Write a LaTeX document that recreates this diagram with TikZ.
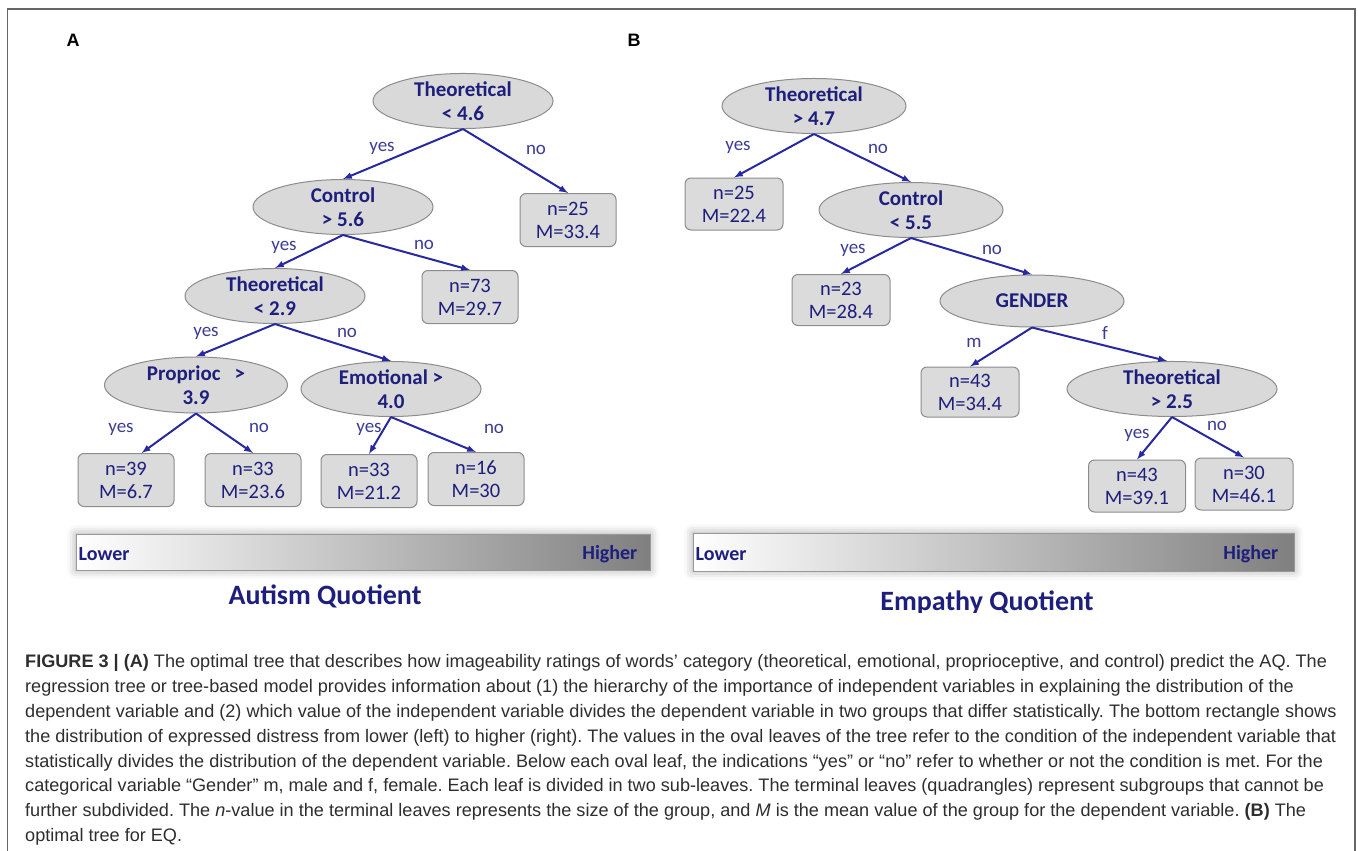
\documentclass[tikz,border=0pt]{standalone}
\usepackage{fontspec}
\setmainfont{Carlito}
\newfontfamily\capfont{Liberation Sans}
\newfontfamily\panelfont{Liberation Sans}
\usetikzlibrary{positioning}
\usetikzlibrary{arrows}
\usetikzlibrary{shapes.geometric}
\usetikzlibrary{shadows.blur}

\definecolor{navy}{RGB}{30,30,125}
\definecolor{labblue}{RGB}{60,60,150}
\definecolor{edgeblue}{RGB}{40,40,160}
\definecolor{captext}{RGB}{45,45,45}

\tikzset{
  split/.style={ellipse, draw=black!45, fill=black!15, line width=1pt,
    minimum width=180pt, minimum height=55pt, inner sep=0pt, align=center,
    text=navy, font=\bfseries\fontsize{21}{24}\selectfont},
  leaf/.style={rectangle, rounded corners=6pt, draw=black!45, fill=black!14,
    line width=1pt, minimum width=96pt, minimum height=53pt, inner sep=0pt,
    align=center, text=navy, font=\fontsize{20.5}{23}\selectfont},
  lab/.style={text=labblue, font=\fontsize{19}{19}\selectfont, inner sep=0pt},
  branch/.style={-latex, draw=edgeblue, line width=2pt},
  gauge/.style={rectangle, draw=black!40, line width=1pt, left color=white,
    right color=black!50, inner sep=0pt,
    blur shadow={shadow xshift=0pt, shadow yshift=0pt, shadow blur radius=9pt, shadow opacity=35}},
  gaugetext/.style={text=navy, font=\bfseries\fontsize{20}{20}\selectfont, inner sep=0pt},
  capline/.style={anchor=base west, inner sep=0pt, text=captext,
    font=\capfont\fontsize{18.1}{20}\selectfont\frenchspacing},
}

\begin{document}
\begin{tikzpicture}[x=1pt,y=-1pt]
    \useasboundingbox (0,0) rectangle (1358,851);
    \draw[black!60, line width=1.5pt] (7.5,852) -- (7.5,9) -- (1355,9) -- (1355,852); % frame

    \node[font=\panelfont\bfseries\fontsize{18}{18}\selectfont, inner sep=0pt] (pa) at (73,40) {A};
    \node[font=\panelfont\bfseries\fontsize{18}{18}\selectfont, inner sep=0pt] (pb) at (634,40) {B};

    % tree A
    \node[split] (rootA) at (463,101) {Theoretical\\< 4.6};
    \node[split] (ctlA) at (343,207) {Control\\> 5.6};
    \node[split] (thA) at (275,296) {Theoretical\\< 2.9};
    \node[split, minimum width=183pt, minimum height=56pt] (propA) at (196,385) {Proprioc\hspace{14pt}>\\3.9};
    \node[split, minimum height=54pt] (emoA) at (391,389) {Emotional >\\4.0};
    \node[leaf] (n25A) at (568,220) {n=25\\M=33.4};
    \node[leaf] (n73A) at (470,297) {n=73\\M=29.7};
    \node[leaf] (n39A) at (126,480) {n=39\\M=6.7};
    \node[leaf] (n33A) at (253,480) {n=33\\M=23.6};
    \node[leaf] (n33bA) at (369,481) {n=33\\M=21.2};
    \node[leaf] (n16A) at (476,479) {n=16\\M=30};

    % tree B
    \node[split, minimum width=184pt] (rootB) at (814,106) {Theoretical\\> 4.7};
    \node[split, minimum width=184pt, minimum height=54pt] (ctlB) at (911,210) {Control\\< 5.5};
    \node[split, minimum width=184pt, minimum height=52pt] (genB) at (1032,301) {GENDER};
    \node[split, minimum width=210pt, minimum height=52pt] (thB) at (1172,389) {Theoretical\\> 2.5};
    \node[leaf, minimum width=98pt, minimum height=52pt] (n25B) at (734,204) {n=25\\M=22.4};
    \node[leaf, minimum width=98pt, minimum height=51pt] (n23B) at (841,300) {n=23\\M=28.4};
    \node[leaf, minimum width=98pt, minimum height=50pt] (n43B) at (970,392) {n=43\\M=34.4};
    \node[leaf, minimum width=97pt, minimum height=52pt] (n43bB) at (1137,486) {n=43\\M=39.1};
    \node[leaf, minimum width=98pt, minimum height=52pt] (n30B) at (1244,484) {n=30\\M=46.1};

    % edit here for the branches
    \foreach \a/\b in {rootA/ctlA.north, rootA/n25A.north, ctlA/thA.north, ctlA/n73A.north,
        thA/propA.north, thA/emoA.north, propA/n39A.60, propA/n33A.north,
        emoA/n33bA.north, emoA/n16A.north,
        rootB/n25B.north, rootB/ctlB.north, ctlB/n23B.north, ctlB/genB.north,
        genB/n43B.north, genB/thB.100, thB/n43bB.north, thB/n30B.north}
    \draw[branch] (\a.south) -- (\b);

    % edit here for the yes/no labels
    \node[lab] (y1A) at (382,148) {yes};
    \node[lab] (o1A) at (536,150) {no};
    \node[lab] (y2A) at (284,247) {yes};
    \node[lab] (o2A) at (424,245) {no};
    \node[lab] (y3A) at (206,333) {yes};
    \node[lab] (o3A) at (347,333) {no};
    \node[lab] (y4A) at (121,429) {yes};
    \node[lab] (o4A) at (259,428) {no};
    \node[lab] (y5A) at (369,429) {yes};
    \node[lab] (o5A) at (494,429) {no};
    \node[lab] (y1B) at (738,147) {yes};
    \node[lab] (o1B) at (878,149) {no};
    \node[lab] (y2B) at (853,250) {yes};
    \node[lab] (o2B) at (992,250) {no};
    \node[lab] (mB) at (974,343) {m};
    \node[lab] (fB) at (1105,333) {f};
    \node[lab] (y3B) at (1137,435) {yes};
    \node[lab] (o3B) at (1217,426) {no};

    % scales
    \node[gauge, minimum width=574pt, minimum height=36pt] (barA) at (363,552) {};
    \node[gaugetext, anchor=west] (lowA) at ([xshift=3pt,yshift=-2pt]barA.west) {Lower};
    \node[gaugetext, anchor=east] (highA) at ([xshift=-13pt,yshift=-2pt]barA.east) {Higher};
    \node[gauge, minimum width=601pt, minimum height=38pt] (barB) at (993.5,552) {};
    \node[gaugetext, anchor=west] (lowB) at ([xshift=3pt,yshift=-2pt]barB.west) {Lower};
    \node[gaugetext, anchor=east] (highB) at ([xshift=-16pt,yshift=-2pt]barB.east) {Higher};
    \node[text=navy, font=\bfseries\fontsize{28}{28}\selectfont, anchor=base, inner sep=0pt] (qA) at (325,604) {Autism Quotient};
    \begin{scope}
      \clip (650,580) rectangle (1340,612);
      \node[text=navy, font=\bfseries\fontsize{28}{28}\selectfont, anchor=base, inner sep=0pt] (qB) at (987,610) {Empathy Quotient};
    \end{scope}

    % caption
    \node[capline] (cap1) at (25,667) {\bfseries FIGURE 3 | (A)\mdseries{} The optimal tree that describes how imageability ratings of words’ category (theoretical, emotional, proprioceptive, and control) predict the AQ. The};
    \node[capline] (cap2) at (25,692) {regression tree or tree-based model provides information about (1) the hierarchy of the importance of independent variables in explaining the distribution of the};
    \node[capline] (cap3) at (25,717) {dependent variable and (2) which value of the independent variable divides the dependent variable in two groups that differ statistically. The bottom rectangle shows};
    \node[capline] (cap4) at (25,742) {the distribution of expressed distress from lower (left) to higher (right). The values in the oval leaves of the tree refer to the condition of the independent variable that};
    \node[capline] (cap5) at (25,767) {statistically divides the distribution of the dependent variable. Below each oval leaf, the indications “yes” or “no” refer to whether or not the condition is met. For the};
    \node[capline] (cap6) at (25,791) {categorical variable “Gender” m, male and f, female. Each leaf is divided in two sub-leaves. The terminal leaves (quadrangles) represent subgroups that cannot be};
    \node[capline] (cap7) at (25,816) {further subdivided. The \textit{n}-value in the terminal leaves represents the size of the group, and \textit{M} is the mean value of the group for the dependent variable. \textbf{(B)} The};
    \node[capline] (cap8) at (25,841) {optimal tree for EQ.};
\end{tikzpicture}
\end{document}
